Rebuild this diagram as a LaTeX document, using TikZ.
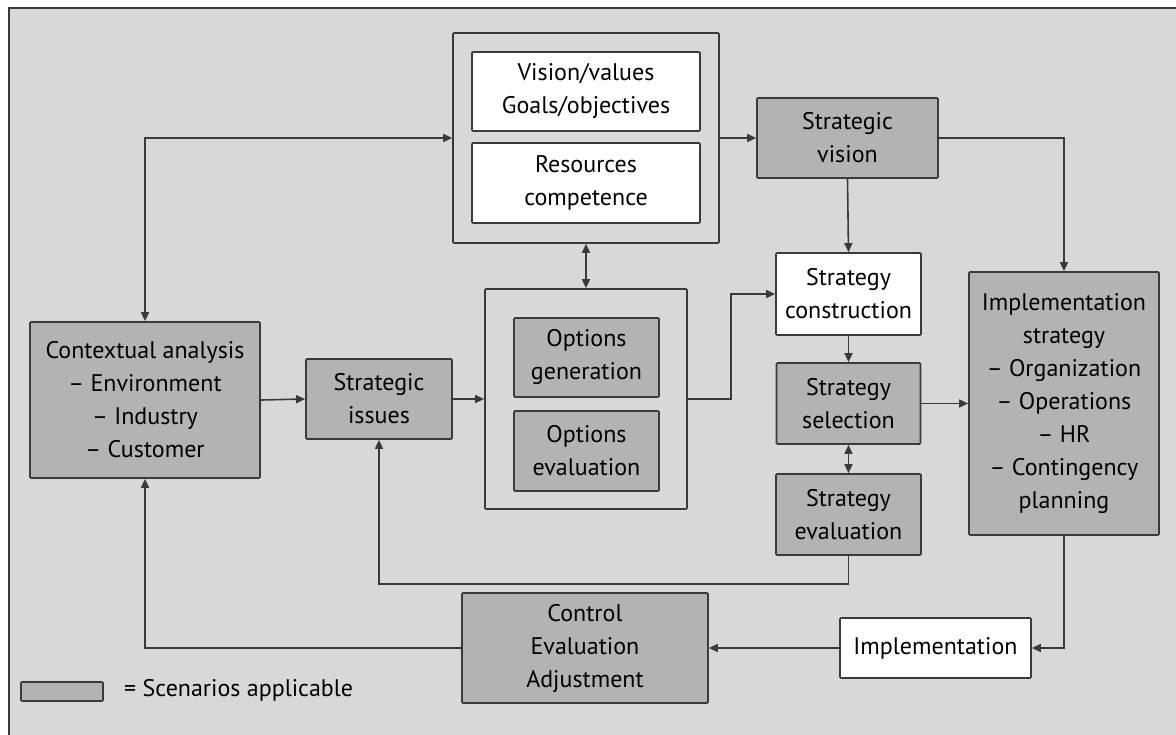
\documentclass[tikz,border=0pt]{standalone}
\usepackage{fontspec}
\setmainfont{PT Sans}
\usetikzlibrary{arrows.meta}

\definecolor{bggray}{HTML}{D8D8D8}
\definecolor{boxgray}{HTML}{B3B3B3}
\definecolor{linegray}{HTML}{3A3A3A}

\def \boxLine {1.7pt}

\tikzset{
  box/.style={draw=linegray, line width=\boxLine, rounded corners=1pt, inner sep=0pt,
    align=center, font=\fontsize{24}{33}\selectfont},
  graybox/.style={box, fill=boxgray},
  whitebox/.style={box, fill=white},
  groupbox/.style={box, fill=bggray},
  link/.style={draw=linegray, line width=1.6pt, -{Triangle[length=9pt,width=8pt]}},
  twolink/.style={link, {Triangle[length=9pt,width=8pt]}-{Triangle[length=9pt,width=8pt]}}
}

\begin{document}
\begin{tikzpicture}[x=1pt, y=-1pt]
         \useasboundingbox (0,0) rectangle (1176,735);
         \fill[bggray] (9,8) rectangle (1176,735);
         \draw[linegray, line width=1.5pt] (9,735) -- (9,8) -- (1176,8);

         % groups
         \node[groupbox, minimum width=266pt, minimum height=210pt] (vgroup) at (586,138) {};
         \node[groupbox, minimum width=202pt, minimum height=220pt] (ogroup) at (586,399) {};

         \node[whitebox, minimum width=228pt, minimum height=79pt] (vision) at (586,91.5) {Vision/values\\Goals/objectives};
         \node[whitebox, minimum width=228pt, minimum height=80pt] (resources) at (586,183) {Resources\\competence};
         \node[graybox, minimum width=145pt, minimum height=79pt] (ogen) at (586.5,357.5) {Options\\generation};
         \node[graybox, minimum width=145pt, minimum height=80pt] (oeval) at (586.5,451) {Options\\evaluation};

         \node[graybox, minimum width=230pt, minimum height=156pt] (context) at (145,400) {Contextual analysis\\-- Environment\\-- Industry\\-- Customer};
         \node[graybox, minimum width=146pt, minimum height=80pt] (issues) at (379,399) {Strategic\\issues};
         \node[graybox, minimum width=181pt, minimum height=80pt] (svision) at (847.5,138) {Strategic\\vision};
         \node[whitebox, minimum width=145pt, minimum height=82pt] (construct) at (848.5,294) {Strategy\\construction};
         \node[graybox, minimum width=144pt, minimum height=81pt] (select) at (848.5,403.5) {Strategy\\selection};
         \node[graybox, minimum width=145pt, minimum height=81pt] (seval) at (848.5,514.5) {Strategy\\evaluation};
         \node[graybox, minimum width=190pt, minimum height=263pt] (impstrat) at (1064,403.5) {Implementation\\strategy\\-- Organization\\-- Operations\\-- HR\\-- Contingency\\planning};
         \node[whitebox, minimum width=191pt, minimum height=60pt] (impl) at (935.5,648) {Implementation};
         \node[graybox, minimum width=246pt, minimum height=110pt] (control) at (585,648) {Control\\Evaluation\\Adjustment};

         % legend
         \node[graybox, minimum width=82pt, minimum height=19pt] (legend) at (62,691.5) {};
         \node[anchor=west, inner sep=0pt, font=\fontsize{24}{33}\selectfont] (legtext) at (124,690) {= Scenarios applicable};

         % connectors
         \draw[twolink] (context.north) |- (vgroup.west);
         \draw[link] (vgroup.east) -- (svision.west);
         \draw[link] (svision.south) -- (construct.north);
         \draw[link] (svision.east) -| (impstrat.north);
         \draw[twolink] (vgroup.south) -- (ogroup.north);
         \draw[link] (context.east) -- (issues.west);
         \draw[link] (issues.east) -- (ogroup.west);
         \draw[link] (ogroup.east) -- ++(43,0) |- (construct.west);
         \draw[link] (construct.south) -- (select.north);
         \draw[twolink] (select.south) -- (seval.north);
         \draw[link] (select.east) -- (impstrat.west);
         \draw[link] (seval.south) -- ++(0,28) -| (issues.south);
         \draw[link] (impstrat.south) |- (impl.east);
         \draw[link] (impl.west) -- (control.east);
         \draw[link] (control.west) -| (context.south);
      \end{tikzpicture}
\end{document}
